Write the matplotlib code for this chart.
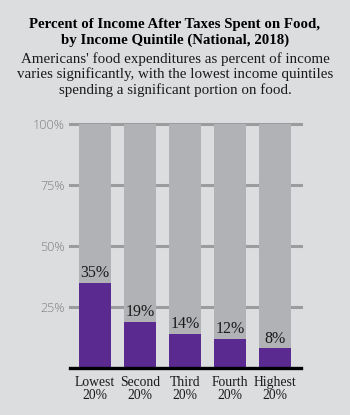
import matplotlib
matplotlib.use("Agg")
import matplotlib.pyplot as plt

# data
quintiles = ["Lowest\n20%", "Second\n20%", "Third\n20%", "Fourth\n20%", "Highest\n20%"]
food_share = [35, 19, 14, 12, 8]
yticks = [25, 50, 75, 100]
ytick_labels = ["25%", "50%", "75%", "100%"]

bg = "#dcdddf"
purple = "#5b2a91"
bar_gray = "#b1b2b5"
grid_gray = "#9b9c9e"

fig = plt.figure(figsize=(3.5, 4.15), dpi=100, facecolor=bg)
ax = fig.add_axes([0.2, 0.1133, 0.66, 0.588])
ax.set_facecolor(bg)

x = list(range(len(quintiles)))
for t in yticks:
    ax.axhline(t, color=grid_gray, lw=2.2, zorder=1, clip_on=False)
ax.bar(x, [100] * len(x), width=0.71, color=bar_gray, zorder=2)
ax.bar(x, food_share, width=0.71, color=purple, zorder=3)
ax.axhline(0, color="black", lw=2.4, zorder=4, clip_on=False)

for xi, v in zip(x, food_share):
    ax.text(xi, v + 0.8, f"{v}%", ha="center", va="bottom",
            family="Liberation Serif", fontsize=11.5, color="#1a1a1a", zorder=5)

ax.set_xlim(-0.55, 4.58)
ax.set_ylim(0, 100)
ax.set_yticks(yticks)
ax.set_yticklabels(ytick_labels, family="Open Sans", fontweight="light",
                   fontsize=9, color="#7e7e81")
ax.set_xticks(x)
ax.set_xticklabels(quintiles, family="Liberation Serif", fontsize=9.8,
                   color="#1a1a1a", linespacing=0.95)
ax.tick_params(length=0, pad=4)
ax.tick_params(axis="x", pad=6)
for s in ax.spines.values():
    s.set_visible(False)

fig.text(0.5, 0.921, "Percent of Income After Taxes Spent on Food,\nby Income Quintile (National, 2018)",
         ha="center", va="center", family="Liberation Serif", fontweight="bold",
         fontsize=10.7, linespacing=1.22, color="black")
fig.text(0.5, 0.821, "Americans' food expenditures as percent of income\n"
         "varies significantly, with the lowest income quintiles\n"
         "spending a significant portion on food.",
         ha="center", va="center", family="Liberation Serif",
         fontsize=10.8, linespacing=1.17, color="#1a1a1a")

fig.savefig("out.png", dpi=100, facecolor=bg)
